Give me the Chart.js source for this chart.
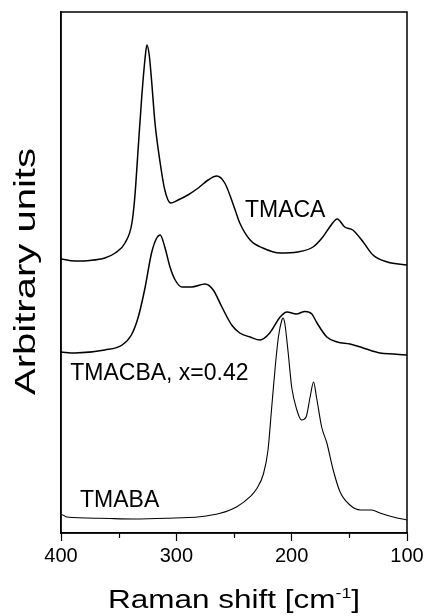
<!DOCTYPE html>
<html>
<head>
<meta charset="utf-8">
<script src="https://cdn.jsdelivr.net/npm/chart.js@4/dist/chart.umd.min.js"></script>
<style>
  html, body { margin: 0; padding: 0; background: #fff; }
  canvas { display: block; }
</style>
</head>
<body>
<canvas id="chart" width="425" height="616"></canvas>
<script>
// Raman spectra (y in arbitrary units, stacked with offsets)
const tmacaShift = [400, 388, 375, 362, 353, 344.5, 338.5, 336, 333, 330, 327, 325.5, 323.5, 321.5, 318.5, 314, 310, 305, 298.5, 290, 281, 272.5, 265, 258, 249, 245, 236, 225, 210, 195, 181.5, 173, 167, 160.5, 154, 147, 138, 129.5, 117, 100];
const tmacaIntensity = [274, 272, 272.5, 275, 280, 290, 310, 336, 386, 436, 476, 488, 478, 453, 410, 370, 343, 330, 333, 338, 345, 353, 357, 350, 323, 310, 293, 285, 280, 281, 286, 296, 306, 314, 306, 303, 291, 278, 271, 268];

const tmacbaShift = [400, 388, 362, 347, 339, 333, 327, 321.5, 317, 314, 310, 305.5, 301, 295, 287, 275, 268, 260.5, 252, 245, 236, 227.5, 219, 210, 204, 196, 188.5, 182.5, 178, 169.5, 160.5, 149.5, 138, 123.5, 112, 100];
const tmacbaIntensity = [181, 180, 183, 188, 198, 216, 246, 280, 295, 298, 286, 266, 253, 246, 246, 249, 243, 226, 208, 200, 196, 193, 200, 216, 221, 219, 221.5, 219, 210, 196, 191, 189, 185, 180, 179, 178];

const tmabaShift = [400, 397.5, 395, 366, 337.5, 308.5, 279.5, 262, 247.5, 236, 230.5, 224.5, 220.5, 217.5, 214.5, 211.5, 208.5, 207.5, 206, 203, 200, 195.5, 191.5, 187.5, 184, 181, 178.5, 174, 169.5, 164, 158, 149.5, 140.5, 130.5, 123.5, 112, 100];
const tmabaIntensity = [18.5, 17.5, 16, 14.7, 14, 14.7, 16.3, 19.7, 26.3, 36.3, 44, 59, 83, 123, 163, 196, 213, 215, 210, 180, 146, 123, 113, 116, 136, 151, 136, 106, 90, 63, 41, 28, 23, 23, 20, 16, 13];

const seriesNames = ['TMACA', 'TMACBA, x=0.42', 'TMABA'];
const majorTicks = [400, 300, 200, 100];
const minorTicks = [350, 250, 150];

// where the curve labels sit, in data units (left edge, baseline)
const labelAnchors = [[240.5, 316], [392, 153], [383.5, 26]];

const FONT = '"Liberation Sans", Arial, Helvetica, sans-serif';

function toPoints(xs, ys) {
  return xs.map((x, i) => ({ x: x, y: ys[i] }));
}

const extras = {
  id: 'extras',
  afterDraw(chart) {
    const ctx = chart.ctx;
    const area = chart.chartArea;
    const xs = chart.scales.x;
    const ys = chart.scales.y;

    ctx.save();
    // frame
    ctx.strokeStyle = '#000';
    ctx.lineWidth = 1.5;
    ctx.strokeRect(area.left, area.top, area.right - area.left, area.bottom - area.top);

    // minor ticks
    ctx.lineWidth = 1.2;
    minorTicks.forEach(v => {
      const px = Math.round(xs.getPixelForValue(v)) + 0.5;
      ctx.beginPath();
      ctx.moveTo(px, area.bottom);
      ctx.lineTo(px, area.bottom + 5);
      ctx.stroke();
    });

    // curve labels
    ctx.fillStyle = '#000';
    ctx.font = '23px ' + FONT;
    ctx.textBaseline = 'alphabetic';
    ctx.textAlign = 'left';
    seriesNames.forEach((name, i) => {
      const a = labelAnchors[i];
      ctx.fillText(name, xs.getPixelForValue(a[0]), ys.getPixelForValue(a[1]));
    });

    // x title with superscript
    const main = 'Raman shift [cm';
    const sup = '-1';
    const end = ']';
    ctx.font = '25px ' + FONT;
    const wMain = ctx.measureText(main).width;
    const wEnd = ctx.measureText(end).width;
    ctx.font = '14px ' + FONT;
    const wSup = ctx.measureText(sup).width;
    const total = wMain + wSup + wEnd;
    const cx = (area.left + area.right) / 2;
    ctx.save();
    ctx.translate(cx, 608);
    ctx.scale(1.26, 1);
    let x0 = -total / 2;
    ctx.font = '25px ' + FONT;
    ctx.fillText(main, x0, 0);
    ctx.font = '14px ' + FONT;
    ctx.fillText(sup, x0 + wMain, -10);
    ctx.font = '25px ' + FONT;
    ctx.fillText(end, x0 + wMain + wSup, 0);
    ctx.restore();

    // y title
    ctx.save();
    ctx.translate(35, 271.5);
    ctx.rotate(-Math.PI / 2);
    ctx.scale(1.38, 1);
    ctx.font = '29px ' + FONT;
    ctx.textAlign = 'center';
    ctx.fillText('Arbitrary units', 0, 0);
    ctx.restore();

    ctx.restore();
  }
};

new Chart(document.getElementById('chart'), {
  type: 'line',
  data: {
    datasets: [
      { label: seriesNames[0], data: toPoints(tmacaShift, tmacaIntensity), borderWidth: 1.5 },
      { label: seriesNames[1], data: toPoints(tmacbaShift, tmacbaIntensity), borderWidth: 1.5 },
      { label: seriesNames[2], data: toPoints(tmabaShift, tmabaIntensity), borderWidth: 1.1 }
    ].map(d => Object.assign(d, {
      borderColor: '#000',
      pointRadius: 0,
      fill: false,
      cubicInterpolationMode: 'monotone'
    }))
  },
  options: {
    responsive: false,
    devicePixelRatio: 1,
    animation: false,
    layout: { padding: { top: 12, right: 18, left: 0, bottom: 0 } },
    plugins: { legend: { display: false }, tooltip: { enabled: false } },
    scales: {
      x: {
        type: 'linear',
        reverse: true,
        min: 100,
        max: 400,
        afterBuildTicks: scale => { scale.ticks = majorTicks.map(v => ({ value: v })); },
        ticks: {
          color: '#000',
          font: { family: FONT, size: 20 },
          padding: 3,
          maxRotation: 0,
          autoSkip: false
        },
        grid: { drawOnChartArea: false, drawTicks: true, tickLength: 8, tickColor: '#000', tickWidth: 1.2 },
        border: { display: true, color: '#000', width: 1.5 },
        afterFit: scale => {
          scale.height = 83;
          scale.paddingLeft = 0;
          scale.paddingRight = 0;
        }
      },
      y: {
        min: 0,
        max: 521,
        ticks: { display: false },
        grid: { display: false, drawTicks: false },
        border: { display: true, color: '#000', width: 1.5 },
        afterFit: scale => { scale.width = 61; }
      }
    }
  },
  plugins: [extras]
});
</script>
</body>
</html>
